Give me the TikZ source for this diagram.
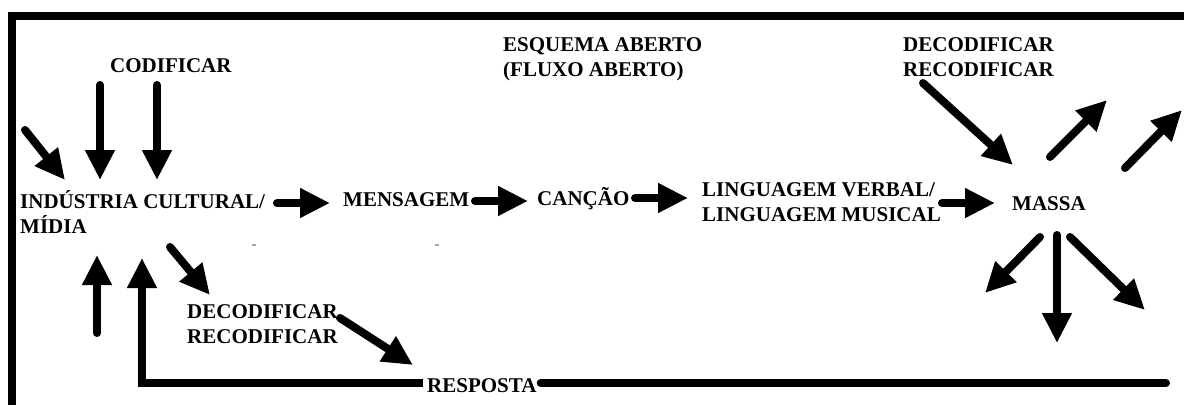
\documentclass[tikz,border=0pt]{standalone}
\usepackage{fontspec}
\setmainfont{Liberation Serif}
\usetikzlibrary{arrows.meta}
\tikzset{
  lbl/.style={font=\fontsize{21}{25}\selectfont\bfseries, inner sep=0pt, anchor=base west, align=left},
  arr/.style={line width=8pt, line cap=round, -{Triangle[length=30pt,width=28pt]}},
  fb/.style={line width=8pt},
  frame/.style={line width=8pt, line join=miter},
}
\begin{document}
\begin{tikzpicture}[x=1pt,y=-1pt]
\useasboundingbox (0,0) rectangle (1184,405);
% frame
\draw[frame] (12,405) -- (12,16) -- (1184,16);
% texts (base anchor = baseline of the last line)
\node[lbl] (cod) at (110,72) {CODIFICAR};
\node[lbl] (esq) at (503,76) {ESQUEMA ABERTO\\(FLUXO ABERTO)};
\node[lbl] (dec2) at (903,76) {DECODIFICAR\\RECODIFICAR};
\node[lbl] (ind) at (20,233) {INDÚSTRIA CULTURAL/\\MÍDIA};
\node[lbl] (men) at (343,206) {MENSAGEM};
\node[lbl] (can) at (537,205) {CANÇÃO};
\node[lbl] (ling) at (702,221) {LINGUAGEM VERBAL/\\LINGUAGEM MUSICAL};
\node[lbl] (massa) at (1012,210) {MASSA};
\node[lbl] (dec1) at (187,343) {DECODIFICAR\\RECODIFICAR};
\node[lbl, inner xsep=4pt] (resp) at (423,392) {RESPOSTA};
% coordinates
\coordinate (k1a) at (100,85);   \coordinate (k1b) at (100,180);
\coordinate (k2a) at (157,85);   \coordinate (k2b) at (157,180);
\coordinate (k3a) at (25,130);   \coordinate (k3b) at (65,180);
\coordinate (u1a) at (97,333);   \coordinate (u1b) at (97,255);
\coordinate (d1a) at (170,247);  \coordinate (d1b) at (210,295);
\coordinate (d2a) at (340,318);  \coordinate (d2b) at (413,365);
\coordinate (c1a) at (277,203);  \coordinate (c1b) at (330,203);
\coordinate (c2a) at (475,201);  \coordinate (c2b) at (528,201);
\coordinate (c3a) at (635,198);  \coordinate (c3b) at (688,198);
\coordinate (c4a) at (942,203);  \coordinate (c4b) at (995,203);
\coordinate (m0a) at (923,83);   \coordinate (m0b) at (1013,165);
\coordinate (m1a) at (1050,157); \coordinate (m1b) at (1107,100);
\coordinate (m2a) at (1125,168); \coordinate (m2b) at (1182,110);
\coordinate (m3a) at (1040,237); \coordinate (m3b) at (985,293);
\coordinate (m4a) at (1057,235); \coordinate (m4b) at (1057,343);
\coordinate (m5a) at (1070,237); \coordinate (m5b) at (1145,310);
\coordinate (fbc) at (142,383);  \coordinate (fbt) at (142,258);
\coordinate (fbe) at (1166,383);
% arrows
\draw[arr] (k1a) -- (k1b);
\draw[arr] (k2a) -- (k2b);
\draw[arr] (k3a) -- (k3b);
\draw[arr] (u1a) -- (u1b);
\draw[arr] (d1a) -- (d1b);
\draw[arr] (d2a) -- (d2b);
\draw[arr] (c1a) -- (c1b);
\draw[arr] (c2a) -- (c2b);
\draw[arr] (c3a) -- (c3b);
\draw[arr] (c4a) -- (c4b);
\draw[arr] (m0a) -- (m0b);
\draw[arr] (m1a) -- (m1b);
\draw[arr] (m2a) -- (m2b);
\draw[arr] (m3a) -- (m3b);
\draw[arr] (m4a) -- (m4b);
\draw[arr] (m5a) -- (m5b);
% feedback line
\draw[fb, line join=miter, -{Triangle[length=30pt,width=28pt]}] (resp.west |- fbc) -- (fbc) -- (fbt);
\draw[fb, line cap=round] (resp.east |- fbe) -- (fbe);
% small dashes
\draw[gray!70, line width=1.5pt] (252,245) -- (256,245);
\draw[gray!70, line width=1.5pt] (435,245) -- (439,245);
\end{tikzpicture}
\end{document}
